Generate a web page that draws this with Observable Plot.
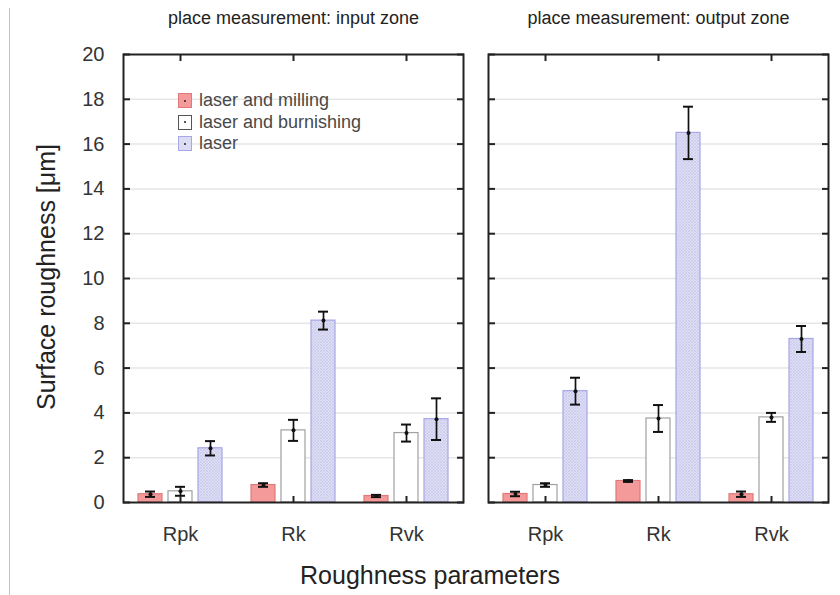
<!DOCTYPE html>
<html><head><meta charset="utf-8">
<script src="https://cdn.jsdelivr.net/npm/d3@7"></script>
<script src="https://cdn.jsdelivr.net/npm/@observablehq/plot@0.6"></script>
<style>
body{margin:0;background:#fff;font-family:"Liberation Sans",Arial,sans-serif;}
#wrap{position:relative;width:840px;height:595px;overflow:hidden;background:#fff;}
#wrap svg{position:absolute;left:0;top:0;}
.edge{position:absolute;left:9px;top:8px;width:1px;height:587px;background:#c4c4c4;}
.ttl{position:absolute;color:#222;white-space:nowrap;}
#xt{left:430px;top:575px;transform:translate(-50%,-50%);font-size:25px;}
#yt{left:46px;top:277px;transform:translate(-50%,-50%) rotate(-90deg);font-size:25px;}
#legend{position:absolute;left:178px;top:90px;font-size:18px;color:#484848;}
.li{display:flex;align-items:center;height:21.5px;}
.sw{width:14px;height:15px;box-sizing:border-box;margin-right:7px;position:relative;}
.sw::after{content:"";position:absolute;left:5px;top:5.5px;width:2px;height:2px;background:#222;border-radius:1px;}
</style></head><body>
<div id="wrap"><div class="edge"></div></div>
<script>
const zones = ["input zone", "output zone"];
const params = ["Rpk", "Rk", "Rvk"];
const series = ["laser and milling", "laser and burnishing", "laser"];
const yTicks = [0, 2, 4, 6, 8, 10, 12, 14, 16, 18, 20];

const inputMilling = [0.37, 0.78, 0.29];
const inputMillingErr = [0.12, 0.08, 0.05];
const inputBurnishing = [0.5, 3.22, 3.1];
const inputBurnishingErr = [0.2, 0.47, 0.38];
const inputLaser = [2.42, 8.12, 3.72];
const inputLaserErr = [0.32, 0.4, 0.93];
const outputMilling = [0.38, 0.96, 0.37];
const outputMillingErr = [0.1, 0.04, 0.12];
const outputBurnishing = [0.78, 3.75, 3.8];
const outputBurnishingErr = [0.08, 0.6, 0.2];
const outputLaser = [4.97, 16.5, 7.3];
const outputLaserErr = [0.6, 1.17, 0.58];

const fills = ["#f59a9a", "#ffffff", "url(#hatch)"];
const swatchFills = ["#f59a9a", "#ffffff", "#dcdcf4"];
const strokes = ["#e07a7a", "#a0a0a0", "#a6a6e8"];
const offsets = [-30, 0, 30];

const values = {
  "input zone": [[inputMilling, inputMillingErr], [inputBurnishing, inputBurnishingErr], [inputLaser, inputLaserErr]],
  "output zone": [[outputMilling, outputMillingErr], [outputBurnishing, outputBurnishingErr], [outputLaser, outputLaserErr]]
};
const rows = [];
zones.forEach(z => series.forEach((s, si) => params.forEach((p, pi) => {
  rows.push({zone: z, series: s, param: p, value: values[z][si][0][pi], err: values[z][si][1][pi]});
})));

const marks = [
  Plot.ruleY(yTicks.filter(d => d > 0 && d < 20), {stroke: "#e6e6e6", strokeWidth: 1.5})
];
series.forEach((s, i) => {
  const d = rows.filter(r => r.series === s);
  marks.push(Plot.barY(d, {fx: "zone", x: "param", y: "value", dx: offsets[i], fill: fills[i], stroke: strokes[i], strokeWidth: 1.2}));
  marks.push(Plot.ruleX(d, {fx: "zone", x: "param", y1: r => r.value - r.err, y2: r => r.value + r.err, dx: offsets[i], stroke: "#111", strokeWidth: 1.7}));
  marks.push(Plot.tickY(d, {fx: "zone", x: "param", y: r => r.value + r.err, dx: offsets[i], insetLeft: 7, insetRight: 7, stroke: "#111", strokeWidth: 2}));
  marks.push(Plot.tickY(d, {fx: "zone", x: "param", y: r => r.value - r.err, dx: offsets[i], insetLeft: 7, insetRight: 7, stroke: "#111", strokeWidth: 2}));
  marks.push(Plot.dot(d, {fx: "zone", x: "param", y: "value", dx: offsets[i], r: 2, fill: "#111"}));
});
marks.push(
  Plot.frame({stroke: "#222", strokeWidth: 2}),
  Plot.axisY(yTicks, {anchor: "left", tickSize: 0, tickPadding: 19, fontSize: 20, label: null, fill: "#333"}),
  Plot.axisY(yTicks, {anchor: "left", tickSize: 7, dx: 7, tickFormat: () => "", label: null, facetAnchor: null, strokeWidth: 2, stroke: "#222"}),
  Plot.axisY(yTicks, {anchor: "right", tickSize: 7, dx: -7, tickFormat: () => "", label: null, facetAnchor: null, strokeWidth: 2, stroke: "#222"}),
  Plot.axisX({anchor: "bottom", tickSize: 0, tickPadding: 24, fontSize: 20, label: null, fill: "#333"}),
  Plot.axisX({anchor: "bottom", tickSize: 6, dy: -6, tickFormat: () => "", label: null, facetAnchor: null, strokeWidth: 2, stroke: "#222"}),
  Plot.axisX({anchor: "top", tickSize: 6, dy: 6, tickFormat: () => "", label: null, facetAnchor: null, strokeWidth: 2, stroke: "#222"}),
  Plot.axisFx({anchor: "top", tickSize: 0, tickPadding: 31, fontSize: 18, label: null, fill: "#222", tickFormat: d => "place measurement: " + d})
);

const chart = Plot.plot({
  width: 840, height: 595,
  marginLeft: 123, marginRight: 11, marginTop: 54, marginBottom: 93,
  style: {fontFamily: "'Liberation Sans', Arial, sans-serif", background: "transparent"},
  fx: {domain: zones, paddingInner: 0.0684, paddingOuter: 0, label: null},
  x: {domain: params, paddingInner: 0.789, paddingOuter: 0.3945, label: null},
  y: {domain: [0, 20], label: null},
  marks
});
// hatch pattern for the "laser" bars
const ns = "http://www.w3.org/2000/svg";
const defs = document.createElementNS(ns, "defs");
defs.innerHTML = '<pattern id="hatch" patternUnits="userSpaceOnUse" width="3" height="3">' +
  '<rect width="3" height="3" fill="#dedef5"/>' +
  '<path d="M0,3 L3,0 M0,0 L3,3" stroke="#c6c6ea" stroke-width="0.6"/></pattern>';
chart.insertBefore(defs, chart.firstChild);

const wrap = document.getElementById("wrap");
wrap.appendChild(chart);

const xt = document.createElement("div"); xt.className = "ttl"; xt.id = "xt"; xt.textContent = "Roughness parameters"; wrap.appendChild(xt);
const yt = document.createElement("div"); yt.className = "ttl"; yt.id = "yt"; yt.textContent = "Surface roughness [μm]"; wrap.appendChild(yt);
const lg = document.createElement("div"); lg.id = "legend";
series.forEach((s, i) => {
  const li = document.createElement("div"); li.className = "li";
  const sw = document.createElement("span"); sw.className = "sw";
  sw.style.background = swatchFills[i]; sw.style.border = "1.2px solid " + (i === 1 ? "#555" : strokes[i]);
  const tx = document.createElement("span"); tx.textContent = s;
  li.appendChild(sw); li.appendChild(tx); lg.appendChild(li);
});
wrap.appendChild(lg);
</script>
</body></html>
